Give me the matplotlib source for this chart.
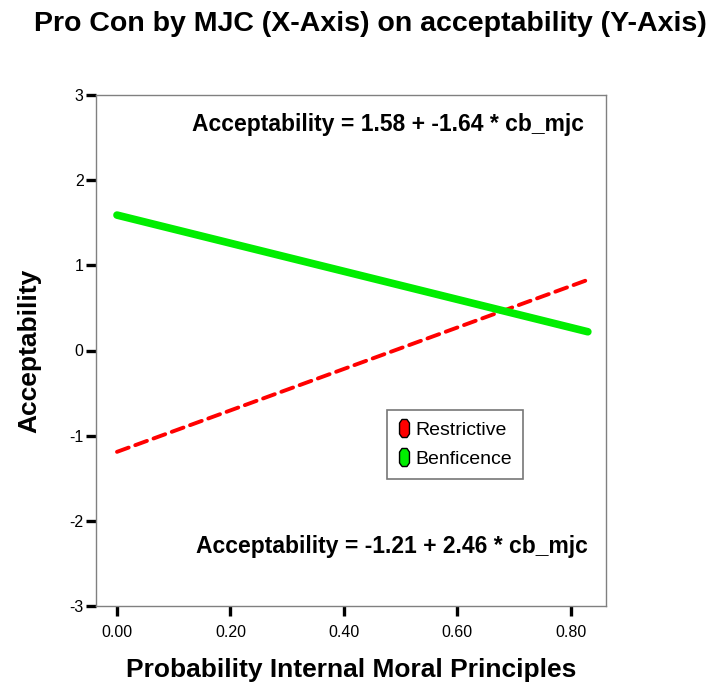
import matplotlib
matplotlib.use("Agg")
import matplotlib.pyplot as plt
from matplotlib.lines import Line2D

plt.rcParams['font.family'] = ['Liberation Sans', 'DejaVu Sans']

# Data (fit line endpoints)
x_vals = [0.0, 0.83]
benef_y = [1.59, 0.22]
restr_y = [-1.19, 0.83]
series_names = ["Restrictive", "Benficence"]
x_ticks = [0.0, 0.2, 0.4, 0.6, 0.8]
x_tick_labels = ["0.00", "0.20", "0.40", "0.60", "0.80"]
y_ticks = [-3, -2, -1, 0, 1, 2, 3]
eq_top = "Acceptability = 1.58 + -1.64 * cb_mjc"
eq_bottom = "Acceptability = -1.21 + 2.46 * cb_mjc"

W, H = 712, 688
fig = plt.figure(figsize=(W / 100, H / 100), dpi=100)
ax = fig.add_axes([96 / W, 1 - 606 / H, (606 - 96) / W, (606 - 95) / H])

ax.plot(x_vals, restr_y, color="#ff0000", lw=2.8, ls=(0, (3.2, 1.8)),
        solid_capstyle="round", dash_capstyle="round", zorder=3)
ax.plot(x_vals, benef_y, color="#00ee00", lw=5.5, solid_capstyle="round", zorder=3)

ax.set_xlim(-0.037, 0.862)
ax.set_ylim(-3, 3)
ax.set_xticks(x_ticks)
ax.set_xticklabels(x_tick_labels)
ax.set_yticks(y_ticks)
ax.set_yticklabels([str(v) for v in y_ticks])
ax.tick_params(axis="both", direction="out", length=7.5, width=2.4, color="black",
               labelsize=11.5)
ax.tick_params(axis="x", pad=6)
ax.tick_params(axis="y", pad=1.5)
for s in ax.spines.values():
    s.set_color("#808080")
    s.set_linewidth(1.0)

ax.set_xlabel("Probability Internal Moral Principles", fontsize=19, fontweight="bold",
              labelpad=13)
ax.set_ylabel("Acceptability", fontsize=19, fontweight="bold", labelpad=20)

ax.text(0.957, 0.943, eq_top, transform=ax.transAxes, ha="right", va="center",
        fontsize=16.5, fontweight="bold")
ax.text(0.965, 0.117, eq_bottom, transform=ax.transAxes, ha="right", va="center",
        fontsize=16.5, fontweight="bold")

oct_verts = [(-0.25, -0.5), (0.25, -0.5), (0.5, -0.3), (0.5, 0.3), (0.25, 0.5),
             (-0.25, 0.5), (-0.5, 0.3), (-0.5, -0.3), (-0.25, -0.5)]
oct_verts = [(vx * 0.55, vy) for vx, vy in oct_verts]
handles = [
    Line2D([], [], ls="none", marker=oct_verts, markersize=13, markerfacecolor="#ff0000",
           markeredgecolor="black", markeredgewidth=1.0),
    Line2D([], [], ls="none", marker=oct_verts, markersize=13, markerfacecolor="#00ee00",
           markeredgecolor="black", markeredgewidth=1.0),
]
leg = ax.legend(handles, series_names, loc="upper left",
                bbox_to_anchor=((387 - 96) / 510, 1 - (410 - 95) / 511),
                frameon=True, fancybox=False, fontsize=14, handlelength=0.5,
                handletextpad=0.35, borderpad=0.6, labelspacing=0.55, borderaxespad=0)
leg.get_frame().set_edgecolor("#555555")
leg.get_frame().set_linewidth(1.2)

fig.text(370 / W, 1 - 24 / H, "Pro Con by MJC (X-Axis) on acceptability (Y-Axis)",
         ha="center", va="center", fontsize=20.5, fontweight="bold")

fig.savefig("out.png", dpi=100)
